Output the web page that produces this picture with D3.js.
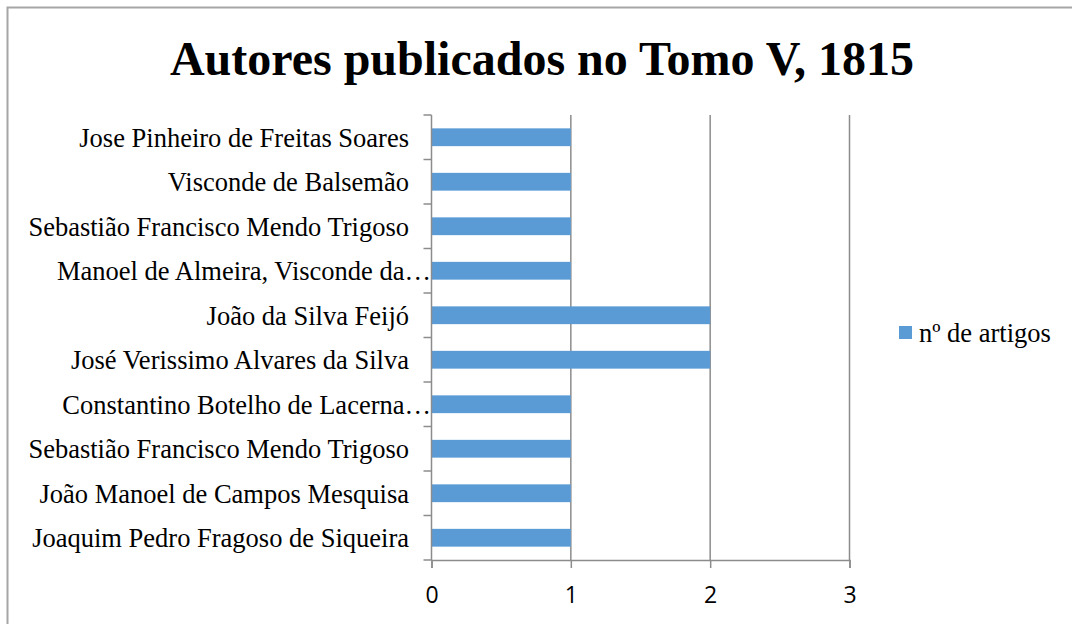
<!DOCTYPE html>
<html>
<head>
    <title>Autores publicados no Tomo V</title>
    <script src="https://cdnjs.cloudflare.com/ajax/libs/d3/7.8.5/d3.min.js"></script>
    <style>
        body { margin: 0; background: #fff; }
        .cat { font-family: 'Liberation Serif', 'Times New Roman', serif; font-size: 26.5px; fill: #000; }
        .tick-x { font-family: 'Open Sans', 'Liberation Sans', sans-serif; font-size: 23px; fill: #000; }
    </style>
</head>
<body>
<div id="chart"></div>
<script>
// ---------- data (top to bottom as drawn) ----------
var authors = [
    "Jose Pinheiro de Freitas Soares",
    "Visconde de Balsemão",
    "Sebastião Francisco Mendo Trigoso",
    "Manoel de Almeira, Visconde da…",
    "João da Silva Feijó",
    "José Verissimo Alvares da Silva",
    "Constantino Botelho de Lacerna…",
    "Sebastião Francisco Mendo Trigoso",
    "João Manoel de Campos Mesquisa",
    "Joaquim Pedro Fragoso de Siqueira"
];
var artigos = [1, 1, 1, 1, 2, 2, 1, 1, 1, 1];
var xTicks = [0, 1, 2, 3];
var seriesName = "nº de artigos";
var titleText = "Autores publicados no Tomo V, 1815";

// ---------- the box ----------
var W = 1072, H = 624;
var svg = d3.select("#chart").append("svg")
    .attr("width", W)
    .attr("height", H);

// chart border (runs off right/bottom edge)
svg.append("rect")
    .attr("x", 7.5).attr("y", 7.5)
    .attr("width", 1080).attr("height", 640)
    .attr("fill", "#fff")
    .attr("stroke", "#a6a6a6")
    .attr("stroke-width", 2);

svg.append("text")
    .attr("x", 542).attr("y", 75)
    .attr("text-anchor", "middle")
    .style("font-family", "'Liberation Serif', 'Times New Roman', serif")
    .style("font-weight", "bold")
    .style("font-size", "48px")
    .text(titleText);

// ---------- scales ----------
var x = d3.scaleLinear().domain([0, 3]).range([431.5, 849.5]);
var y = d3.scaleBand()
    .domain(d3.range(authors.length))
    .range([115, 560])
    .paddingInner(0.6)
    .paddingOuter(0.3);
var step = y.step();
var axisColor = "#8c8c8c";

// ---------- gridlines ----------
svg.append("g").selectAll("line")
    .data(xTicks.filter(function (t) { return t > 0; }))
    .enter().append("line")
    .attr("x1", function (d) { return x(d); })
    .attr("x2", function (d) { return x(d); })
    .attr("y1", 115).attr("y2", 560)
    .attr("stroke", axisColor)
    .attr("stroke-width", 1.5);

// ---------- bars ----------
svg.append("g").selectAll("rect")
    .data(artigos)
    .enter().append("rect")
    .attr("x", x(0))
    .attr("y", function (d, i) { return y(i); })
    .attr("width", function (d) { return x(d) - x(0); })
    .attr("height", y.bandwidth())
    .attr("fill", "#5b9bd5");

// ---------- x axis ----------
var xAxis = svg.append("g")
    .attr("transform", "translate(0,560)")
    .call(d3.axisBottom(x).tickValues(xTicks).tickSize(8).tickPadding(19).tickFormat(d3.format("d")));
xAxis.select(".domain").attr("stroke", axisColor).attr("stroke-width", 1.5);
xAxis.selectAll(".tick line").attr("stroke", axisColor).attr("stroke-width", 1.5);
xAxis.selectAll(".tick text").attr("class", "tick-x");

// ---------- y axis (ticks at category boundaries) ----------
var bounds = d3.range(authors.length + 1).map(function (i) { return 115 + i * step; });
svg.append("line")
    .attr("x1", x(0)).attr("x2", x(0))
    .attr("y1", 115).attr("y2", 560)
    .attr("stroke", axisColor).attr("stroke-width", 1.5);
svg.append("g").selectAll("line")
    .data(bounds)
    .enter().append("line")
    .attr("x1", x(0) - 8).attr("x2", x(0))
    .attr("y1", function (d) { return d; })
    .attr("y2", function (d) { return d; })
    .attr("stroke", axisColor).attr("stroke-width", 1.5);

// truncated labels run right up to the axis, the others keep a gap
svg.append("g").selectAll("text")
    .data(authors)
    .enter().append("text")
    .attr("class", "cat")
    .attr("x", function (d) { return d.slice(-1) === "…" ? 431 : 409; })
    .attr("y", function (d, i) { return y(i) + y.bandwidth() / 2; })
    .attr("dy", "0.35em")
    .attr("text-anchor", "end")
    .text(function (d) { return d; });

// ---------- legend ----------
var leg = svg.append("g").attr("transform", "translate(899,326)");
leg.append("rect").attr("width", 13).attr("height", 13).attr("fill", "#5b9bd5");
leg.append("text")
    .attr("x", 20).attr("y", 7)
    .attr("dy", "0.35em")
    .style("font-family", "'Liberation Serif', 'Times New Roman', serif")
    .style("font-size", "26.5px")
    .text(seriesName);
</script>
</body>
</html>
